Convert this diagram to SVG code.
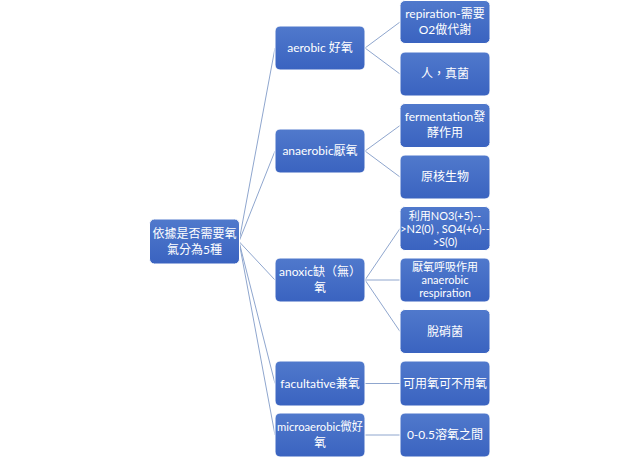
<svg xmlns="http://www.w3.org/2000/svg" width="640" height="458" viewBox="0 0 640 458">
<defs>
<linearGradient id="g" x1="0" y1="0" x2="0" y2="1">
<stop offset="0" stop-color="#5079CC"/>
<stop offset="1" stop-color="#3A63C0"/>
</linearGradient>
<style>
.b{fill:url(#g);stroke:#FFFFFF;stroke-width:1}
.t{fill:#FFFFFF;font-family:Lato,"Noto Sans CJK TC",sans-serif;font-size:12px;text-anchor:middle}
.s{font-size:11px}
.c{stroke:#8FA6CE;stroke-width:1;fill:none}
</style>
</defs>
<rect width="640" height="458" fill="#FFFFFF"/>
<g id="connectors">
<path class="c" d="M239,241.5L275,48M239,241.5L275,151M239,241.5L275,280M239,241.5L275,383.5M239,241.5L275,435"/>
<path class="c" d="M365,48L400,22M365,48L400,74M365,151L400,125.5M365,151L400,177M365,280L400,228.5M365,280L400,280M365,280L400,331.5M365,383.5L400,383.5M365,435L400,435"/>
</g>
<g id="root"><rect class="b" x="149.5" y="219" width="90" height="45" rx="5"/><text class="t" x="194.5" y="238">依據是否需要氧</text><text class="t" x="194.5" y="254">氣分為5種</text></g>
<g id="aerobic"><rect class="b" x="275" y="26" width="90" height="44" rx="5"/><text class="t" x="320" y="52">aerobic 好氧</text></g>
<g id="anaerobic"><rect class="b" x="275" y="129" width="90" height="44" rx="5"/><text class="t" x="320" y="155">anaerobic厭氧</text></g>
<g id="anoxic"><rect class="b" x="275" y="258" width="90" height="44" rx="5"/><text class="t" x="320" y="276">anoxic缺（無）</text><text class="t" x="320" y="292">氧</text></g>
<g id="facultative"><rect class="b" x="275" y="361" width="90" height="45" rx="5"/><text class="t" x="320" y="388">facultative兼氧</text></g>
<g id="microaerobic"><rect class="b" x="275" y="413" width="90" height="44" rx="5"/><text class="t" x="320" y="431" textLength="86" lengthAdjust="spacingAndGlyphs">microaerobic微好</text><text class="t" x="320" y="447">氧</text></g>
<g id="repiration"><rect class="b" x="400" y="0.5" width="90" height="43" rx="5"/><text class="t" x="445" y="18">repiration-需要</text><text class="t" x="445" y="34">O2做代謝</text></g>
<g id="human"><rect class="b" x="400" y="52" width="90" height="44" rx="5"/><text class="t" x="445" y="78">人，真菌</text></g>
<g id="fermentation"><rect class="b" x="400" y="103.5" width="90" height="44" rx="5"/><text class="t" x="445" y="121">fermentation發</text><text class="t" x="445" y="137">酵作用</text></g>
<g id="prokaryote"><rect class="b" x="400" y="155" width="90" height="44" rx="5"/><text class="t" x="445" y="181">原核生物</text></g>
<g id="no3"><rect class="b" x="400" y="206.5" width="90" height="44" rx="5"/><text class="t s" x="445" y="220">利用NO3(+5)--</text><text class="t s" x="445" y="233">&gt;N2(0) , SO4(+6)--</text><text class="t s" x="445" y="246">&gt;S(0)</text></g>
<g id="anresp"><rect class="b" x="400" y="258" width="90" height="44" rx="5"/><text class="t s" x="445" y="271">厭氧呼吸作用</text><text class="t s" x="445" y="284">anaerobic</text><text class="t s" x="445" y="297">respiration</text></g>
<g id="denitrifier"><rect class="b" x="400" y="309.5" width="90" height="44" rx="5"/><text class="t" x="445" y="335.5">脫硝菌</text></g>
<g id="either"><rect class="b" x="400" y="361" width="90" height="45" rx="5"/><text class="t" x="445" y="388">可用氧可不用氧</text></g>
<g id="dissolved"><rect class="b" x="400" y="413" width="90" height="44" rx="5"/><text class="t" x="445" y="439">0-0.5溶氧之間</text></g>
</svg>
